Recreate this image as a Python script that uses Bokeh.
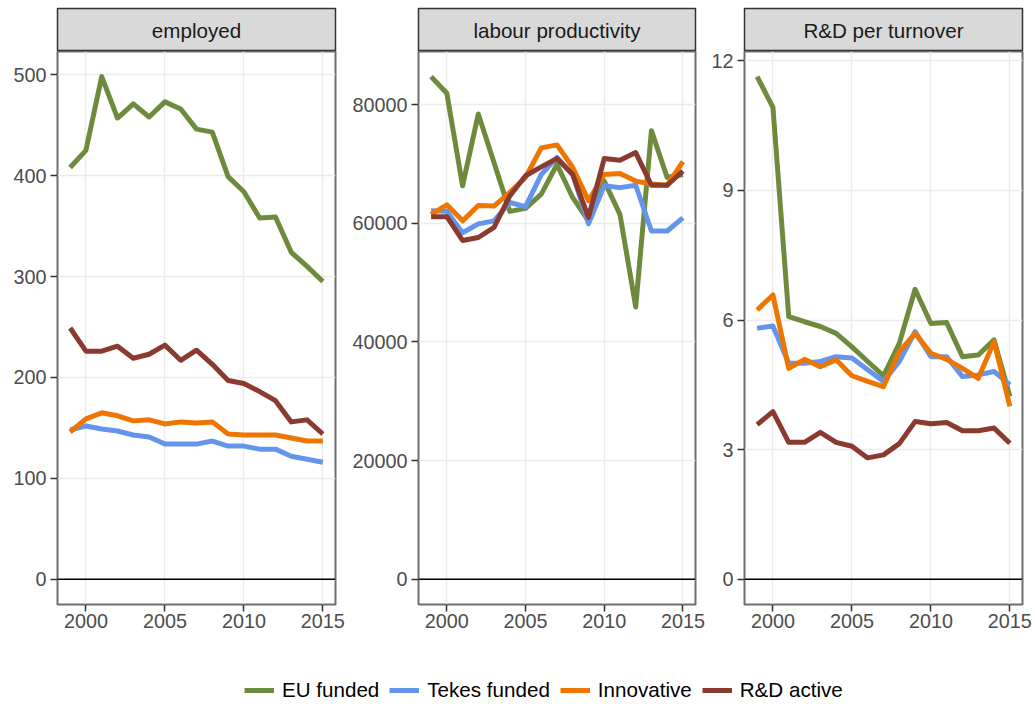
from bokeh.plotting import figure
from bokeh.layouts import row, column
from bokeh.models import (Range1d, FixedTicker, NumeralTickFormatter, Span,
                          Label, Legend, LegendItem)
from bokeh.embed import file_html
from bokeh.resources import INLINE

# ---------------- data ----------------
years = list(range(1999, 2016))
series_names = ["EU funded", "Tekes funded", "Innovative", "R&D active"]
series_colors = ["#6E8B3D", "#6495ED", "#EE7600", "#8B3A2F"]
panel_titles = ["employed", "labour productivity", "R&D per turnover"]

employed_eu = [408, 425, 498, 457, 471, 458, 473, 466, 446, 443, 399, 384, 358, 359, 324, 310, 295]
employed_tekes = [148, 152, 149, 147, 143, 141, 134, 134, 134, 137, 132, 132, 129, 129, 122, 119, 116]
employed_innov = [146, 159, 165, 162, 157, 158, 154, 156, 155, 156, 144, 143, 143, 143, 140, 137, 137]
employed_rd = [249, 226, 226, 231, 219, 223, 232, 217, 227, 213, 197, 194, 186, 177, 156, 158, 144]

prod_eu = [84700, 81900, 66300, 78400, 70200, 62000, 62500, 64900, 69900, 64300, 60400, 67100, 61500, 45900, 75600, 67700, 68200]
prod_tekes = [62100, 62000, 58400, 59900, 60400, 63500, 62800, 68200, 71100, 68200, 59900, 66300, 66000, 66400, 58700, 58700, 60900]
prod_innov = [61500, 63100, 60400, 63000, 62900, 65200, 67700, 72700, 73200, 69400, 63800, 68200, 68400, 67100, 66600, 66400, 70400]
prod_rd = [61100, 61100, 57100, 57600, 59300, 64600, 68000, 69500, 70900, 68200, 61000, 70900, 70600, 71900, 66400, 66400, 68800]

rdt_eu = [11.63, 10.92, 6.08, 5.96, 5.85, 5.69, 5.38, 5.04, 4.71, 5.46, 6.71, 5.92, 5.94, 5.15, 5.19, 5.54, 4.23]
rdt_tekes = [5.81, 5.86, 5.00, 5.00, 5.04, 5.15, 5.12, 4.85, 4.58, 5.04, 5.73, 5.15, 5.15, 4.69, 4.73, 4.81, 4.50]
rdt_innov = [6.23, 6.58, 4.88, 5.09, 4.92, 5.08, 4.71, 4.58, 4.46, 5.27, 5.69, 5.23, 5.09, 4.88, 4.65, 5.50, 4.00]
rdt_rd = [3.58, 3.88, 3.17, 3.17, 3.40, 3.17, 3.08, 2.81, 2.88, 3.14, 3.65, 3.60, 3.63, 3.44, 3.44, 3.50, 3.15]

x_ticks = [2000, 2005, 2010, 2015]
employed_ticks = [0, 100, 200, 300, 400, 500]
prod_ticks = [0, 20000, 40000, 60000, 80000]
rdt_ticks = [0, 3, 6, 9, 12]

panels_data = [
    [employed_eu, employed_tekes, employed_innov, employed_rd],
    [prod_eu, prod_tekes, prod_innov, prod_rd],
    [rdt_eu, rdt_tekes, rdt_innov, rdt_rd],
]
panels_ticks = [employed_ticks, prod_ticks, rdt_ticks]

# ---------------- style / layout ----------------
FONT = "Liberation Sans"
# (left border, frame width, right border) per panel
geom = [(57, 278, 10), (73, 277, 10), (39, 278, 13)]
HEADER_TOP = 8
HEADER_FRAME_H = 43
MAIN_FRAME_H = 553
MAIN_BOTTOM = 46
LEG_H = 54


def make_header(title, left, fw, right):
    h = figure(width=left + fw + right, height=HEADER_TOP + HEADER_FRAME_H,
               x_range=Range1d(0, 1), y_range=Range1d(0, 1),
               output_backend="svg", toolbar_location=None,
               x_axis_location=None, y_axis_location=None,
               min_border_left=left, min_border_right=right,
               min_border_top=HEADER_TOP, min_border_bottom=0, title=None)
    h.grid.visible = False
    h.background_fill_color = "#D9D9D9"
    h.border_fill_color = "white"
    h.outline_line_color = "#333333"
    h.outline_line_width = 1.5
    h.add_layout(Label(x=0.5, y=0.5, text=title, text_align="center",
                       text_baseline="middle", text_font=FONT,
                       text_font_size="20.6px", text_color="#1A1A1A"))
    return h


def make_panel(series, ticks, left, fw, right):
    ymax = max(max(s) for s in series)
    ymin = min(0, min(min(s) for s in series))
    span = ymax - ymin
    xmin, xmax = min(years), max(years)
    xs = xmax - xmin
    p = figure(width=left + fw + right, height=MAIN_FRAME_H + MAIN_BOTTOM,
               x_range=Range1d(xmin - 0.05 * xs, xmax + 0.05 * xs),
               y_range=Range1d(ymin - 0.05 * span, ymax + 0.05 * span),
               output_backend="svg", toolbar_location=None,
               min_border_left=left, min_border_right=right,
               min_border_top=0, min_border_bottom=MAIN_BOTTOM, title=None)
    p.background_fill_color = "white"
    p.border_fill_color = "white"
    p.outline_line_color = "#6E6E6E"
    p.outline_line_width = 2

    p.xaxis.ticker = FixedTicker(ticks=x_ticks)
    p.yaxis.ticker = FixedTicker(ticks=ticks)
    p.xgrid.ticker = FixedTicker(ticks=x_ticks)
    p.ygrid.ticker = FixedTicker(ticks=ticks)
    p.yaxis.formatter = NumeralTickFormatter(format="0")
    p.xaxis.formatter = NumeralTickFormatter(format="0")
    p.grid.grid_line_color = "#EBEBEB"
    p.grid.grid_line_width = 1.5
    p.grid.minor_grid_line_color = None

    for ax in (p.xaxis, p.yaxis):
        ax.axis_line_color = None
        ax.major_tick_line_color = "#333333"
        ax.major_tick_line_width = 1.5
        ax.major_tick_out = 7
        ax.major_tick_in = 0
        ax.minor_tick_line_color = None
        ax.major_label_text_font = FONT
        ax.major_label_text_font_size = "19.8px"
        ax.major_label_text_color = "#4D4D4D"
    p.xaxis.major_label_standoff = 2
    p.yaxis.major_label_standoff = 4

    p.add_layout(Span(location=0, dimension="width", line_color="black",
                      line_width=1.5))
    for vals, col in zip(series, series_colors):
        p.line(years, vals, line_color=col, line_width=5, line_join="round")
    return p


cols = []
for title, series, ticks, (l, fw, r) in zip(panel_titles, panels_data, panels_ticks, geom):
    cols.append(column(make_header(title, l, fw, r),
                       make_panel(series, ticks, l, fw, r), spacing=0))

total_w = sum(l + fw + r for l, fw, r in geom)

# legend strip: the legend renderers reuse series data, placed outside
# this figure's visible range so only their legend glyphs show
leg = figure(width=total_w, height=LEG_H, x_range=Range1d(0, 1), y_range=Range1d(0, 1),
             output_backend="svg", toolbar_location=None,
             x_axis_location=None, y_axis_location=None,
             min_border=0, title=None)
leg.grid.visible = False
leg.outline_line_color = None
leg.background_fill_color = "white"
items = []
for name, col, vals in zip(series_names, series_colors, panels_data[0]):
    r = leg.line(years, vals, line_color=col, line_width=5)
    items.append(LegendItem(label=name, renderers=[r]))
legend = Legend(items=items, orientation="horizontal", location=(244, 2),
                glyph_width=30, glyph_height=22, label_height=22,
                label_standoff=8, spacing=10, padding=0, margin=0,
                label_text_font=FONT, label_text_font_size="20.6px",
                label_text_color="#000000",
                border_line_color=None, background_fill_alpha=0)
leg.add_layout(legend)

layout = column(row(*cols, spacing=0), leg, spacing=0)

open("out.html", "w").write(file_html(layout, INLINE))
